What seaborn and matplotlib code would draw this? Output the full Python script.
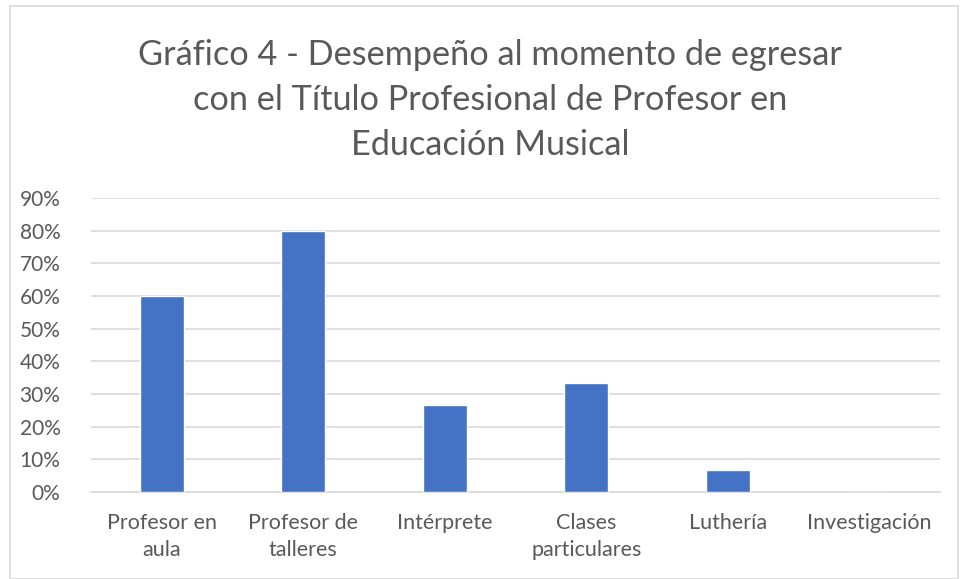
import matplotlib
matplotlib.use("Agg")
import matplotlib.pyplot as plt
import seaborn as sns
import pandas as pd
from matplotlib.patches import Rectangle
from matplotlib.ticker import PercentFormatter

categories = ["Profesor en\naula", "Profesor de\ntalleres", "Intérprete",
              "Clases\nparticulares", "Luthería", "Investigación"]
values = [0.60, 0.80, 0.2667, 0.3333, 0.0667, 0.0]
title = "Gráfico 4 - Desempeño al momento de egresar\ncon el Título Profesional de Profesor en\nEducación Musical"

sns.set_theme(style="white")
plt.rcParams['font.family'] = ['Lato', 'DejaVu Sans']

df = pd.DataFrame({"cat": categories, "val": values})

fig = plt.figure(figsize=(9.61, 5.79), dpi=100)
ax = fig.add_axes([91/961, 1-492/579, (940-91)/961, (492-198)/579])

sns.barplot(data=df, x="cat", y="val", color="#4472C4", width=0.31,
            saturation=1, ax=ax, zorder=3)

ax.set_ylim(0, 0.9)
ax.set_yticks([i/10 for i in range(10)])
ax.yaxis.set_major_formatter(PercentFormatter(1.0, decimals=0))
ax.grid(axis="y", color="#D9D9D9", linewidth=1.2, zorder=0)
ax.set_xlabel("")
ax.set_ylabel("")
for s in ["top", "right", "left"]:
    ax.spines[s].set_visible(False)
ax.spines["bottom"].set_color("#D9D9D9")
ax.spines["bottom"].set_linewidth(1.2)
ax.tick_params(axis="both", length=0, colors="#595959")
ax.tick_params(axis="y", pad=22, labelsize=15)
ax.tick_params(axis="x", pad=15, labelsize=15.5)
for lbl in ax.get_xticklabels():
    lbl.set_linespacing(1.45)

fig.text(490/961, 1-100/579, title, ha="center", va="center", fontsize=24.7,
         color="#595959", linespacing=1.5)

fig.patches.append(Rectangle((10/961, 0.0), 948/961, 1-6/579, transform=fig.transFigure,
                             fill=False, edgecolor="#D9D9D9", linewidth=1.2))

fig.savefig("out.png", dpi=100, facecolor="white")
